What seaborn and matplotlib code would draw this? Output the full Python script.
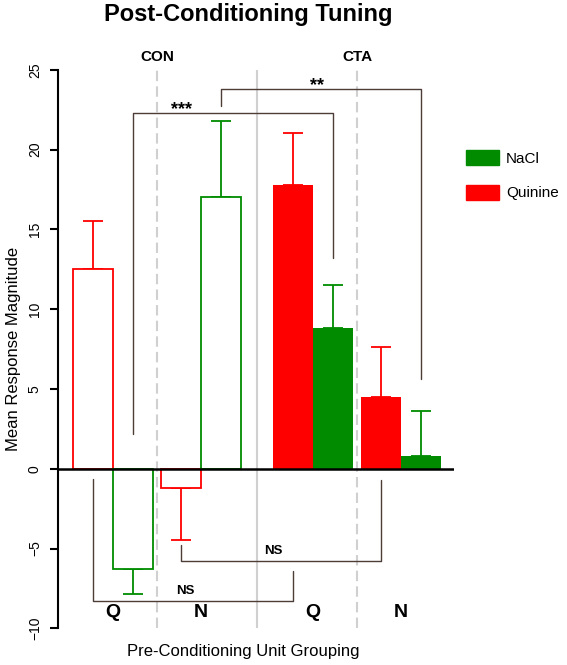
import numpy as np
import pandas as pd
import seaborn as sns
import matplotlib.pyplot as plt
import matplotlib.transforms as mtransforms
from matplotlib.patches import Patch

## datos
conditions = ['CON', 'CON', 'CTA', 'CTA']
unit_groups = ['Q', 'N', 'Q', 'N']
quinine_mean = [12.5, -1.2, 17.75, 4.5]
quinine_sem = [3.05, 3.25, 3.3, 3.15]
nacl_mean = [-6.3, 17.0, 8.83, 0.82]
nacl_sem = [1.55, 4.8, 2.65, 2.8]

# comparaciones: (cond, grupo, sabor) -> (cond, grupo, sabor)
brackets = [
    (('CON', 'Q', 'NaCl'), ('CTA', 'Q', 'NaCl'), 2.2, 22.3, 13.2, '***', 0.24),
    (('CON', 'N', 'NaCl'), ('CTA', 'N', 'NaCl'), 22.7, 23.8, 5.6, '**', 0.48),
    (('CON', 'N', 'Quinine'), ('CTA', 'N', 'Quinine'), -4.75, -5.8, -0.7, 'NS', 0.46),
    (('CON', 'Q', 'Quinine'), ('CTA', 'Q', 'Quinine'), -0.65, -8.3, -6.4, 'NS', 0.46),
]

# layout
group_pos = [0, 2.2, 5.0, 7.2]
hue_order = ['Quinine', 'NaCl']
colors = {'Quinine': '#ff0000', 'NaCl': '#008b00'}
bracket_col = '#4d3d37'

df = pd.DataFrame({
    'condition': conditions * 2,
    'group': unit_groups * 2,
    'taste': ['Quinine'] * 4 + ['NaCl'] * 4,
    'mean': quinine_mean + nacl_mean,
    'sem': quinine_sem + nacl_sem,
    'pos': group_pos * 2,
})

sns.set_theme(style='white')
plt.rcParams['font.family'] = ['Liberation Sans', 'DejaVu Sans']
plt.rcParams['text.color'] = 'black'
plt.rcParams['axes.labelcolor'] = 'black'
plt.rcParams['ytick.color'] = 'black'

fig = plt.figure(figsize=(5.67, 6.65), dpi=100)
ax = fig.add_axes([58.3 / 567, 1 - 628.3 / 665, (454 - 58.3) / 567, (628.3 - 69.7) / 665])

sns.barplot(data=df, x='pos', y='mean', hue='taste', hue_order=hue_order, palette=colors,
            native_scale=True, width=2 / 2.2, errorbar=None, legend=False, saturation=1, ax=ax)

centers = {}
for taste, cont in zip(hue_order, ax.containers):
    sub = df[df['taste'] == taste].sort_values('pos')
    for bar, (_, row) in zip(cont, sub.iterrows()):
        cx = bar.get_x() + bar.get_width() / 2
        centers[(row['condition'], row['group'], taste)] = cx
        if row['condition'] == 'CON':
            bar.set_facecolor('white')
            bar.set_edgecolor(colors[taste])
            bar.set_linewidth(1.3)
        else:
            bar.set_edgecolor('none')
        if row['mean'] >= 0:
            yerr = [[0], [row['sem']]]
        else:
            yerr = [[row['sem']], [0]]
        ax.errorbar(cx, row['mean'], yerr=yerr, fmt='none', ecolor=colors[taste],
                    elinewidth=1.3, capsize=7.2, capthick=1.3, zorder=0.9)

ax.axhline(0, color='black', lw=1.8, zorder=3)

# lineas grises entre grupos
mids = [(group_pos[i] + group_pos[i + 1]) / 2 for i in range(3)]
for m, ls in zip(mids, [(0, (5, 2.5)), '-', (0, (5, 2.5))]):
    ax.axvline(m, color='#d0d0d0', lw=1.5, ls=ls, zorder=0.5)

# corchetes de significancia
for a, b, y0, ybar, y1, lab, frac in brackets:
    x0, x1 = centers[a], centers[b]
    ax.plot([x0, x0, x1, x1], [y0, ybar, ybar, y1], color=bracket_col, lw=1.0, zorder=4)
    if lab == 'NS':
        ax.text(x0 + frac * (x1 - x0), ybar + 0.25, lab, ha='center', va='bottom',
                fontsize=9.5, fontweight='bold')
    else:
        ax.text(x0 + frac * (x1 - x0), ybar - 0.1, lab, ha='center', va='baseline',
                fontsize=13, fontweight='bold')

trans = mtransforms.blended_transform_factory(ax.transData, ax.transAxes)
ax.text(mids[0], 1.022, 'CON', transform=trans, ha='center', va='center', fontsize=11, fontweight='bold')
ax.text(mids[2], 1.022, 'CTA', transform=trans, ha='center', va='center', fontsize=11, fontweight='bold')

for p, g in zip(group_pos, unit_groups):
    ax.text(p, -9.04, g, ha='center', va='center', fontsize=14, fontweight='bold')

ax.set_xlim(-1.375, 8.52)
ax.set_ylim(-10, 25)
ax.set_yticks(range(-10, 30, 5))
ax.set_xticks([])
ax.set_xlabel('')
ax.set_ylabel('')
for s in ['top', 'right', 'bottom']:
    ax.spines[s].set_visible(False)
ax.spines['left'].set_color('black')
ax.spines['left'].set_linewidth(1.5)
ax.tick_params(axis='y', left=True, length=5.8, width=1.5, color='black', labelcolor='black',
               labelsize=10, labelrotation=90, pad=6)
for t in ax.get_yticklabels():
    t.set_va('center')

handles = [Patch(color=colors['NaCl']), Patch(color=colors['Quinine'])]
ax.legend(handles, ['NaCl', 'Quinine'], loc='upper left', bbox_to_anchor=(466 / 567, 1 - 150 / 665),
          bbox_transform=fig.transFigure, frameon=False, borderpad=0, borderaxespad=0,
          fontsize=11, handlelength=2.16, handleheight=1.11, labelspacing=1.26, handletextpad=0.46)

fig.text(248 / 567, 1 - 15 / 665, 'Post-Conditioning Tuning', ha='center', va='center',
         fontsize=17, fontweight='bold')
fig.text(243.5 / 567, 1 - 651.7 / 665, 'Pre-Conditioning Unit Grouping', ha='center', va='center', fontsize=12)
fig.text(14 / 567, 1 - 349 / 665, 'Mean Response Magnitude', ha='center', va='center', rotation=90, fontsize=12)

plt.savefig('out.png', dpi=100)
